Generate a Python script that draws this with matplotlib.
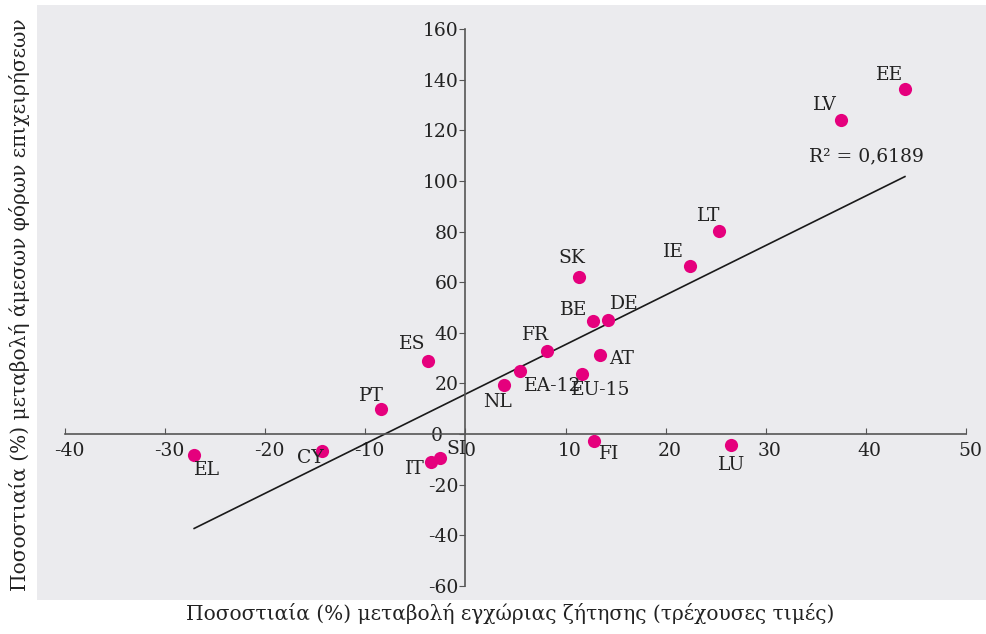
import numpy as np
import matplotlib
matplotlib.use("Agg")
import matplotlib.pyplot as plt
from matplotlib.transforms import ScaledTranslation

plt.rcParams['font.family'] = ['DejaVu Serif']

# data
countries = ["EE", "LV", "LT", "IE", "SK", "BE", "DE", "FR", "AT", "EA-12",
             "EU-15", "NL", "ES", "PT", "CY", "EL", "IT", "SI", "FI", "LU"]
demand = [43.9, 37.5, 25.3, 22.4, 11.3, 12.7, 14.2, 8.1, 13.4, 5.4,
          11.6, 3.9, -3.7, -8.4, -14.3, -27.1, -3.4, -2.5, 12.8, 26.5]
taxes = [136.4, 124.2, 80.4, 66.6, 61.9, 44.6, 45.0, 32.7, 31.2, 24.8,
         23.7, 19.3, 28.8, 9.9, -6.7, -8.3, -11.0, -9.5, -2.8, -4.3]
r2_text = "R² = 0,6189"

xticks = [-40, -30, -20, -10, 0, 10, 20, 30, 40, 50]
yticks = [-60, -40, -20, 0, 20, 40, 60, 80, 100, 120, 140, 160]

# label offsets in pixels (dx, dy)
offsets = {"EE": (-15, 14), "LV": (-16, 15), "LT": (-10, 15), "IE": (-16, 14),
           "SK": (-7, 19), "BE": (-19, 11), "DE": (17, 16), "FR": (-11, 16),
           "AT": (22, -4), "EA-12": (33, -15), "EU-15": (19, -16), "NL": (-7, -17),
           "ES": (-16, 17), "PT": (-10, 13), "CY": (-12, -7), "EL": (13, -15),
           "IT": (-17, -7), "SI": (16, 9), "FI": (16, -13), "LU": (1, -20)}

fig = plt.figure(figsize=(9.86, 6.34), dpi=100)
ax = fig.add_axes([37/986, 34/634, 949/986, 595/634])
ax.set_facecolor("#ebebee")

x = np.array(demand)
y = np.array(taxes)

# linear trend
k, b = np.polyfit(x, y, 1)
xs = np.array([x.min(), x.max()])
ax.plot(xs, k * xs + b, color="#1a1a1a", linewidth=1.2, zorder=2)

ax.scatter(x, y, s=90, color="#e5007d", zorder=3, linewidths=0)

for c, xv, yv in zip(countries, demand, taxes):
    dx, dy = offsets[c]
    ax.annotate(c, (xv, yv), xytext=(dx, dy), textcoords="offset pixels",
                ha="center", va="center", fontsize=13.5, color="#222222")

ax.annotate(r2_text, (xs[1], k * xs[1] + b), xytext=(-38, 20),
            textcoords="offset pixels", ha="center", va="center",
            fontsize=13.5, color="#222222")

ax.set_xlim(-42.8, 52.0)
ax.set_ylim(-65.6, 169.6)

ax.spines["left"].set_position(("data", 0))
ax.spines["bottom"].set_position(("data", 0))
ax.spines["right"].set_visible(False)
ax.spines["top"].set_visible(False)
ax.spines["left"].set_bounds(-60, 160)
ax.spines["bottom"].set_bounds(-40, 50)
for s in ["left", "bottom"]:
    ax.spines[s].set_color("#555555")
    ax.spines[s].set_linewidth(1.2)

ax.set_xticks(xticks)
ax.set_yticks(yticks)
ax.set_xticklabels([str(t) for t in xticks])
ax.set_yticklabels([str(t) for t in yticks])
ax.tick_params(axis="x", direction="in", length=4, color="#555555",
               labelsize=13.5, labelcolor="#222222", pad=6)
ax.tick_params(axis="y", direction="out", length=4, color="#555555",
               labelsize=13.5, labelcolor="#222222", pad=1)

# move the y "0" label a bit left like in the original
for lbl in ax.get_yticklabels():
    if lbl.get_text() == "0":
        lbl.set_transform(lbl.get_transform() + ScaledTranslation(-0.16, 0, fig.dpi_scale_trans))
for lbl in ax.get_xticklabels():
    lbl.set_transform(lbl.get_transform() + ScaledTranslation(0.04, 0, fig.dpi_scale_trans))

fig.text(510/986, 1 - 613/634, "Ποσοστιαία (%) μεταβολή εγχώριας ζήτησης (τρέχουσες τιμές)",
         ha="center", va="center", fontsize=14.5, color="#222222")
fig.text(20/986, 1 - 305/634, "Ποσοστιαία (%) μεταβολή άμεσων φόρων επιχειρήσεων",
         ha="center", va="center", rotation=90, fontsize=14.5, color="#222222")

fig.savefig("out.png", dpi=100)
